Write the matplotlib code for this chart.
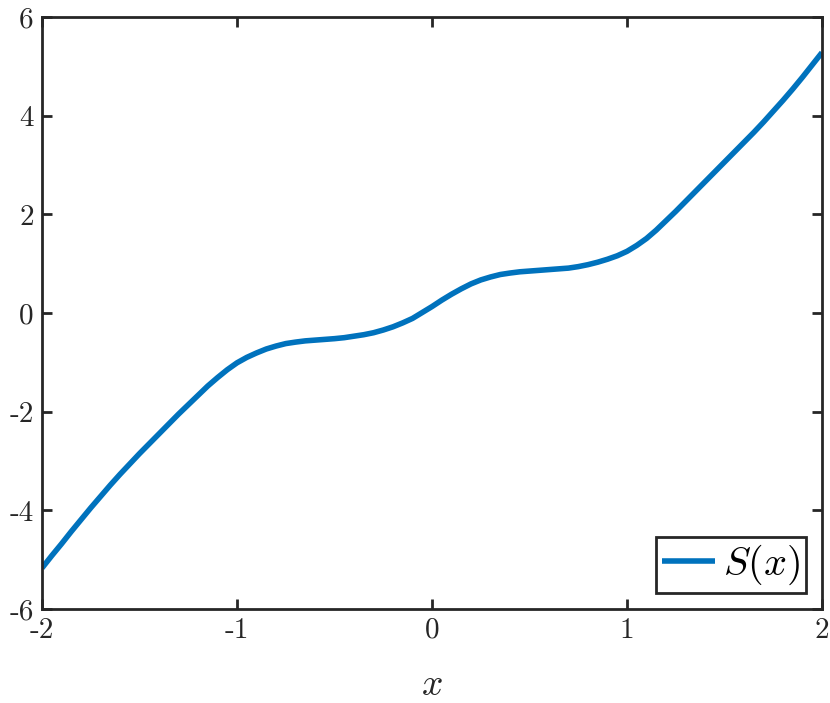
import matplotlib
matplotlib.use("Agg")
import matplotlib.pyplot as plt

plt.rcParams['mathtext.fontset'] = 'cm'
plt.rcParams['font.family'] = ['cmr10', 'DejaVu Serif']
plt.rcParams['axes.unicode_minus'] = False

x_vals = [-2.0, -1.95, -1.9, -1.85, -1.8, -1.75, -1.7, -1.65, -1.6, -1.55,
          -1.5, -1.45, -1.4, -1.35, -1.3, -1.25, -1.2, -1.15, -1.1, -1.05,
          -1.0, -0.95, -0.9, -0.85, -0.8, -0.75, -0.7, -0.65, -0.6, -0.55,
          -0.5, -0.45, -0.4, -0.35, -0.3, -0.25, -0.2, -0.15, -0.1, -0.05,
          0.0, 0.05, 0.1, 0.15, 0.2, 0.25, 0.3, 0.35, 0.4, 0.45,
          0.5, 0.55, 0.6, 0.65, 0.7, 0.75, 0.8, 0.85, 0.9, 0.95,
          1.0, 1.05, 1.1, 1.15, 1.2, 1.25, 1.3, 1.35, 1.4, 1.45,
          1.5, 1.55, 1.6, 1.65, 1.7, 1.75, 1.8, 1.85, 1.9, 1.95, 2.0]
s_vals = [-5.17, -4.92, -4.68, -4.43, -4.19, -3.95, -3.72, -3.49, -3.27, -3.06,
          -2.85, -2.65, -2.45, -2.25, -2.05, -1.86, -1.67, -1.48, -1.31, -1.15,
          -1.01, -0.90, -0.81, -0.73, -0.67, -0.62, -0.59, -0.565, -0.55, -0.535,
          -0.52, -0.50, -0.47, -0.44, -0.40, -0.345, -0.28, -0.20, -0.11, 0.01,
          0.13, 0.26, 0.38, 0.49, 0.59, 0.67, 0.73, 0.78, 0.81, 0.835,
          0.85, 0.865, 0.88, 0.895, 0.91, 0.94, 0.98, 1.03, 1.09, 1.16,
          1.25, 1.37, 1.51, 1.68, 1.87, 2.06, 2.26, 2.46, 2.66, 2.86,
          3.06, 3.26, 3.46, 3.66, 3.87, 4.09, 4.31, 4.54, 4.78, 5.03, 5.28]

xticks = [-2, -1, 0, 1, 2]
xtick_labels = ['-2', '-1', '0', '1', '2']
yticks = [-6, -4, -2, 0, 2, 4, 6]
ytick_labels = ['-6', '-4', '-2', '0', '2', '4', '6']

fig = plt.figure(figsize=(8.30, 7.03), dpi=100)
ax = fig.add_axes([42/830, 1-609/703, (822-42)/830, (609-17)/703])

ax.plot(x_vals, s_vals, color='#0072BD', lw=4.0, label='$S(x)$',
        solid_capstyle='butt', solid_joinstyle='round')

ax.set_xlim(-2, 2)
ax.set_ylim(-6, 6)
ax.set_xticks(xticks)
ax.set_xticklabels(xtick_labels)
ax.set_yticks(yticks)
ax.set_yticklabels(ytick_labels)

edge = '#262626'
for sp in ax.spines.values():
    sp.set_linewidth(2.0)
    sp.set_color(edge)
ax.tick_params(direction='in', length=7, width=2.0, color=edge,
               labelsize=21, labelcolor=edge, top=True, right=True, pad=6)

ax.set_xlabel('$x$', fontsize=27, color=edge, labelpad=18)

leg = ax.legend(loc='lower right', fontsize=29, frameon=True, fancybox=False,
                handlelength=1.3, handletextpad=0.2, borderpad=0.15,
                borderaxespad=0.4)
leg.get_frame().set_edgecolor(edge)
leg.get_frame().set_linewidth(2.0)
leg.get_frame().set_alpha(1.0)

fig.savefig('out.png', dpi=100)
